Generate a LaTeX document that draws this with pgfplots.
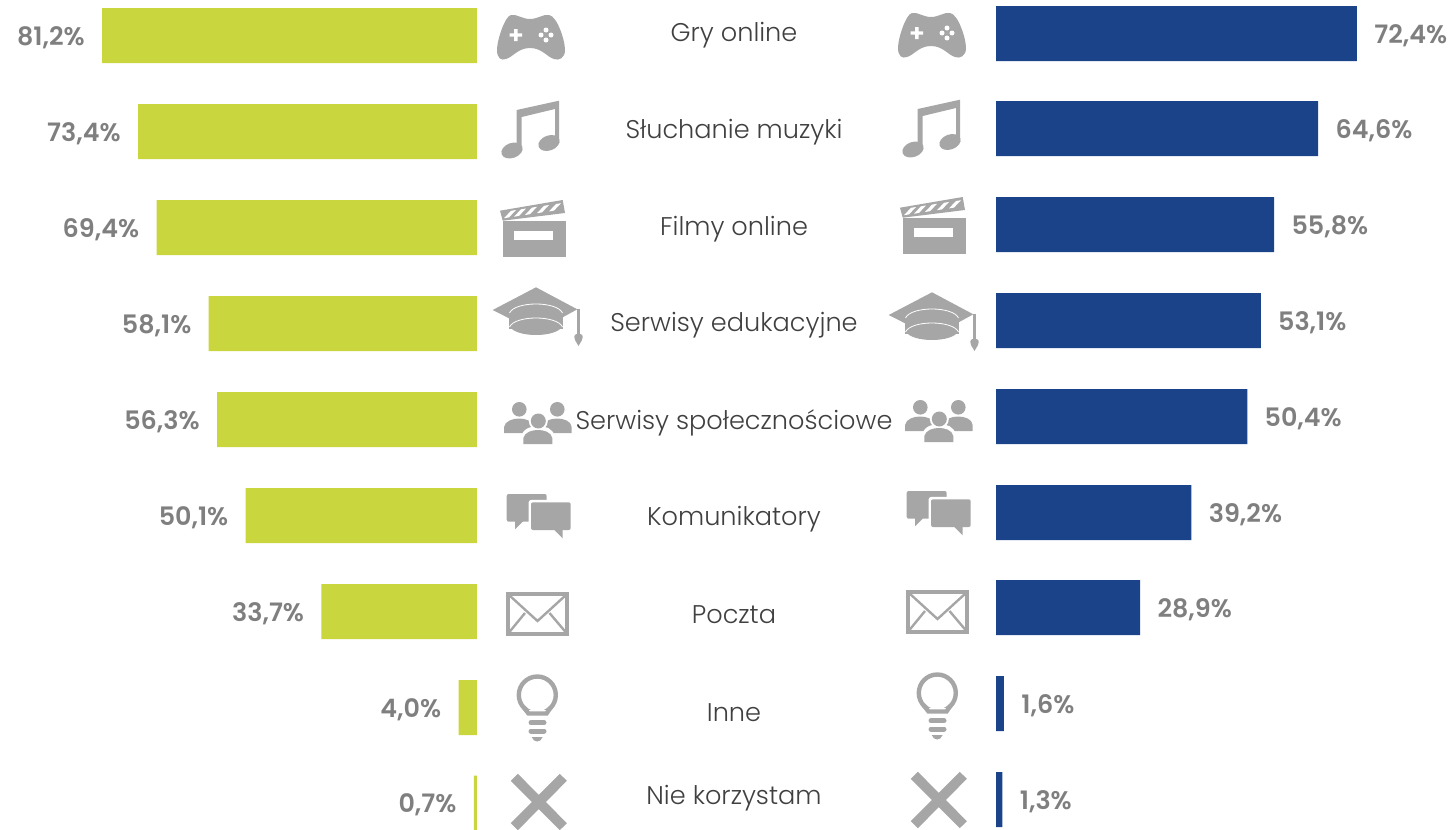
\documentclass[border=0pt]{standalone}
\usepackage{pgfplots}
\usepackage{pgfplotstable}
\pgfplotsset{compat=1.18}
\usepackage{fontspec}
\setmainfont{Poppins}
\newfontfamily\lightf{Poppins Light}
\newfontfamily\semif{Poppins SemiBold}
\definecolor{grn}{RGB}{202,214,62}
\definecolor{blu}{RGB}{27,67,137}
\definecolor{ico}{RGB}{166,166,166}
\definecolor{lab}{RGB}{127,127,127}
\definecolor{txt}{RGB}{64,64,64}
\pgfplotstableread{
pos val
35.5 81.2
131.5 73.4
227.5 69.4
323.5 58.1
419.5 56.3
515.5 50.1
611.5 33.7
707.5 4.0
803 0.7
}\lefttab
\pgfplotstableread{
pos val
33.5 72.4
128.5 64.6
224.5 55.8
320.5 53.1
416.5 50.4
512.5 39.2
607.5 28.9
703.5 1.6
799.5 1.3
}\righttab
\pgfplotsset{barstyle/.style={
  hide axis, scale only axis, clip=false, xbar, bar shift=0pt, bar width=27.5pt,
  height=415pt, ymin=0, ymax=830, y dir=reverse, xmin=0,
  point meta=x,
  nodes near coords={\pgfmathprintnumber[assume math mode=true,use comma,fixed,fixed zerofill,precision=1]{\pgfplotspointmeta}\%},
}}
\newcommand{\icgame}{%
 \fill[ico,shift={(497,14)}] (14,1) .. controls (20,0) and (25,5) .. (33,5) .. controls (41,5) and (46,0) .. (52,1) .. controls (60,2) and (68,26) .. (68,36) .. controls (68,44) and (62,47) .. (57,45) .. controls (50,43) and (45,34) .. (33,34) .. controls (21,34) and (16,43) .. (9,45) .. controls (4,47) and (0,44) .. (0,36) .. controls (0,26) and (8,2) .. (14,1) -- cycle;
 \fill[white] (509.5,33.3) rectangle (522,36.7) (514,29) rectangle (517.5,41);
 \fill[white] (546,30) circle (2.5) (546,40) circle (2.5) (541,35) circle (2.5) (551,35) circle (2.5);
}
\newcommand{\icmusic}{%
 \fill[ico,shift={(500,98)}] (16.7,12) -- (59,2.7) -- (59,45) -- (55,45) -- (55,11) -- (21.7,19) -- (21.7,52) -- (16.7,52) -- cycle;
 \fill[ico] (512,150.5) ellipse [x radius=11, y radius=7.5, rotate=20];
 \fill[ico] (549,143) ellipse [x radius=11, y radius=7.5, rotate=20];
}
\newcommand{\icfilm}{%
 \begin{scope}[shift={(500,199)}]
 \fill[ico] (0,11.7) -- (62.7,1) -- (65,14) -- (2.7,21.7) -- cycle;
 \fill[ico] (2.7,22) rectangle (66,58);
 \fill[white] (14.3,32) rectangle (53.3,41);
 \foreach \xc/\yc in {10/15.2,20/13.7,31/12,43/10.2,55/8.4}
  \fill[white] ({\xc-6},{\yc+4}) -- ({\xc-1},{\yc+3.2}) -- ({\xc+6},{\yc-4.2}) -- ({\xc+1},{\yc-3.4}) -- cycle;
 \end{scope}
}
\newcommand{\iccap}{%
 \fill[ico] (492.7,310) -- (536,287.3) -- (577.3,309.3) -- (536,332) -- cycle;
 \fill[ico] (509.3,310) rectangle (562.7,329);
 \fill[ico] (509.5,326) .. controls (515,338) and (557,338) .. (562.5,326) -- cycle;
 \draw[white,line width=0.4pt] (509.5,313) .. controls (515,301) and (557,301) .. (562.5,313);
 \draw[white,line width=0.4pt] (509.5,327) .. controls (515,315) and (557,315) .. (562.5,327);
 \fill[ico] (576.7,309) rectangle (580,336);
 \fill[ico] (574.3,336) .. controls (575,333) and (582,333) .. (582.7,336) .. controls (583,340) and (580,343) .. (578.5,346) .. controls (577,343) and (574,340) .. (574.3,336) -- cycle;
}
\newcommand{\icpeople}{%
 \fill[ico] (519.3,409.3) circle (7.3) (557.3,409.3) circle (7.3);
 \fill[ico] (504,433) -- (504,427) .. controls (505,421) and (513,418.5) .. (519,418.5) .. controls (526,418.5) and (533,421) .. (534,427) -- (534,433) -- cycle;
 \fill[ico] (542,433) -- (542,427) .. controls (543,421) and (551,418.5) .. (557,418.5) .. controls (564,418.5) and (571,421) .. (571.7,427) -- (571.7,433) -- cycle;
 \fill[white] (538.3,421) circle (9.5);
 \fill[white] (521,446) -- (521,437) .. controls (523,428) and (532,426) .. (538,426) .. controls (545,426) and (553,428) .. (555,437) -- (555,446) -- cycle;
 \fill[ico] (538.3,421) circle (7.5);
 \fill[ico] (523.3,444) -- (523.3,438) .. controls (525,432) and (532,430) .. (538,430) .. controls (544,430) and (551,432) .. (552.3,438) -- (552.3,444) -- cycle;
}
\newcommand{\icchat}{%
 \fill[ico,rounded corners=1pt] (506.7,494) rectangle (546.7,521.7);
 \fill[ico] (515,521) -- (515,529.3) -- (523.3,521) -- cycle;
 \fill[white,rounded corners=1.5pt] (528.5,499.8) rectangle (573,532.5);
 \fill[ico,rounded corners=1pt] (531,502.3) rectangle (570.7,530);
 \fill[ico] (554,529.5) -- (562.7,538.3) -- (562.7,529.5) -- cycle;
}
\newcommand{\icmail}{%
 \draw[ico,line width=2pt] (508,593.7) rectangle (567,633.7);
 \draw[ico,line width=1.2pt] (509,595) -- (537.5,621) -- (566,595);
 \draw[ico,line width=1.2pt] (509,632.5) -- (525,613) (566,632.5) -- (549.5,613);
}
\newcommand{\icbulb}{%
 \draw[ico,line width=2.2pt] (537.3,695) circle (18.5);
 \fill[white] (524.5,709.5) rectangle (550,720);
 \draw[ico,line width=2.2pt] (523.6,707) -- (528.5,713.5) -- (546.5,713.5) -- (551,707);
 \draw[ico,line width=2.5pt,line cap=round] (531,722.7) -- (544,722.7) (531,731) -- (544,731);
 \fill[ico] (531.7,737) -- (542.7,737) .. controls (542,740) and (539,741.5) .. (537.2,741.5) .. controls (535,741.5) and (532.5,740) .. (531.7,737) -- cycle;
}
\newcommand{\icx}{%
 \draw[ico,line width=5pt] (514.3,777.3) -- (563.3,826.7) (563.3,777.3) -- (514.3,826.7);
}
\begin{document}
\begin{tikzpicture}
\useasboundingbox (0,0) rectangle (726.5pt,-415pt);
\begin{axis}[barstyle, at={(0pt,0pt)}, anchor=north west, width=238.5pt,
  x dir=reverse, xmax=103.3,
  every node near coord/.append style={anchor=east, inner sep=0pt, xshift=-8.5pt, yshift=-1pt, font=\fontsize{12.7}{15}\selectfont\semif, text=lab}]
\addplot[fill=grn, draw=none] table[x=val,y=pos] {\lefttab};
\end{axis}
\begin{axis}[barstyle, at={(498pt,0pt)}, anchor=north west, width=228.5pt,
  xmax=91.66,
  every node near coord/.append style={anchor=west, inner sep=0pt, xshift=8.5pt, yshift=-1pt, font=\fontsize{12.7}{15}\selectfont\semif, text=lab}]
\addplot[fill=blu, draw=none] table[x=val,y=pos] {\righttab};
\end{axis}
\begin{scope}[x=0.5pt,y=-0.5pt]
\icgame \icmusic \icfilm \iccap \icpeople \icchat \icmail \icbulb \icx
\begin{scope}[shift={(401,-2)}]\icgame\end{scope}
\begin{scope}[shift={(401,-1)}]\icmusic\end{scope}
\begin{scope}[shift={(400,-3)}]\icfilm\end{scope}
\begin{scope}[shift={(396,5)}]\iccap\end{scope}
\begin{scope}[shift={(401,-2)}]\icpeople\end{scope}
\begin{scope}[shift={(400,-3)}]\icchat\end{scope}
\begin{scope}[shift={(400,-2)}]\icmail\end{scope}
\begin{scope}[shift={(400,-2)}]\icbulb\end{scope}
\begin{scope}[shift={(400,-2)}]\icx\end{scope}
\foreach \t/\y in {Gry online/35,Słuchanie muzyki/132,Filmy online/229,Serwisy edukacyjne/325,Serwisy społecznościowe/423,Komunikatory/519,Poczta/615,Inne/713,Nie korzystam/798}
  \node[text=txt, font=\fontsize{12.8}{15}\selectfont\lightf, inner sep=0pt] at (734,\y) {\t};
\end{scope}
\end{tikzpicture}
\end{document}
